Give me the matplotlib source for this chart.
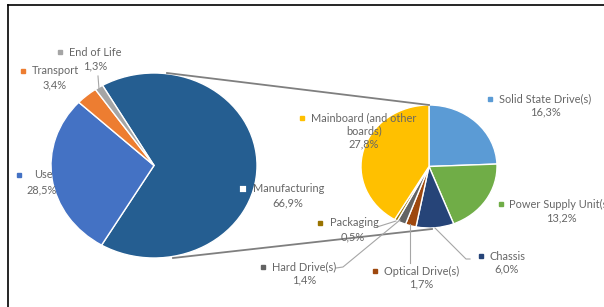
import numpy as np
import matplotlib.pyplot as plt

# main pie
main_labels = ["Manufacturing", "Use", "Transport", "End of Life"]
main_values = [66.9, 28.5, 3.4, 1.3]
main_colors = ["#255E91", "#4472C4", "#ED7D31", "#A5A5A5"]

# breakdown of manufacturing
sub_labels = ["Solid State Drive(s)", "Power Supply Unit(s)", "Chassis",
              "Optical Drive(s)", "Hard Drive(s)", "Packaging",
              "Mainboard (and other\nboards)"]
sub_values = [16.3, 13.2, 6.0, 1.7, 1.4, 0.5, 27.8]
sub_colors = ["#5B9BD5", "#70AD47", "#264478", "#9E480E", "#636363",
              "#997300", "#FFC000"]

W, H = 604, 307
fig = plt.figure(figsize=(W / 100, H / 100), dpi=100)
plt.rcParams['font.family'] = ['Lato', 'DejaVu Sans']
txt_color = "#666666"


def pie_axes(x0, x1, y0, y1):
    # pixel box (top-left origin) -> figure fraction
    return fig.add_axes([x0 / W, (H - y1) / H, (x1 - x0) / W, (y1 - y0) / H])


ax1 = pie_axes(51, 257, 73, 258)
ax1.pie(main_values, colors=main_colors, startangle=120, counterclock=False,
        wedgeprops=dict(edgecolor="white", linewidth=1))
ax2 = pie_axes(361, 497, 105, 228)
ax2.pie(sub_values, colors=sub_colors, startangle=90, counterclock=False,
        wedgeprops=dict(edgecolor="white", linewidth=1))
for a in (ax1, ax2):
    a.set_aspect("auto")
    a.set_xlim(-1, 1)
    a.set_ylim(-1, 1)
    a.axis("off")

# overlay in pixel coordinates
ov = fig.add_axes([0, 0, 1, 1], zorder=5)
ov.set_xlim(0, W)
ov.set_ylim(H, 0)
ov.axis("off")
ov.patch.set_alpha(0)

# frame (cropped)
ov.plot([8, W], [5, 5], color="black", lw=1.2)
ov.plot([8, 8], [5, H], color="black", lw=1.2)

# connector lines
ov.plot([167, 429], [73, 105], color="#7F7F7F", lw=1.3, zorder=1)
ov.plot([173, 432], [258, 229], color="#7F7F7F", lw=1.3, zorder=1)

# leader lines
leaders = [
    ([98, 99], [76, 89]),
    ([377, 396], [227, 221]),
    ([336, 343, 400], [268, 267, 220]),
    ([410, 410], [263, 224]),
    ([435, 466, 470], [228, 259, 259]),
]
for xs, ys in leaders:
    ov.plot(xs, ys, color="#A6A6A6", lw=0.8, zorder=1)


def pct(v):
    return f"{v:.1f}".replace(".", ",") + "%"


# label layout: marker x, text x, name y, pct x, pct y
main_pos = {
    "Manufacturing": (243, 253, 189, 288, 203),
    "Use": (19, 34, 175, 42, 190),
    "Transport": (23, 32, 71, 55, 85),
    "End of Life": (60, 69, 52, 95, 66),
}
sub_pos = {
    "Solid State Drive(s)": (490, 499, 99, 545, 112),
    "Power Supply Unit(s)": (501, 509, 204, 561, 218),
    "Chassis": (481, 489, 256, 507, 269),
    "Optical Drive(s)": (375, 384, 271, 421, 284),
    "Hard Drive(s)": (263, 272, 267, 304, 280),
    "Packaging": (320, 330, 223, 353, 237),
    "Mainboard (and other\nboards)": (302, 311, 118, 364, 144),
}

fs = 7.9
for labels, values, colors, pos in [(main_labels, main_values, main_colors, main_pos),
                                    (sub_labels, sub_values, sub_colors, sub_pos)]:
    for lab, v, c in zip(labels, values, colors):
        mx, tx, ty, px, py = pos[lab]
        if lab == "Manufacturing":
            ov.plot(mx, ty, marker="s", ms=5.5, mfc="white", mec=c, mew=1.3)
        else:
            ov.plot(mx, ty, marker="s", ms=3.5, color=c)
        lines = lab.split("\n")
        ov.text(tx, ty, lines[0], fontsize=fs, color=txt_color,
                ha="left", va="center")
        if len(lines) > 1:
            ov.text(px, ty + 13, lines[1], fontsize=fs, color=txt_color,
                    ha="center", va="center")
        ov.text(px, py, pct(v), fontsize=fs, color=txt_color,
                ha="center", va="center")

fig.savefig("out.png", dpi=100)
